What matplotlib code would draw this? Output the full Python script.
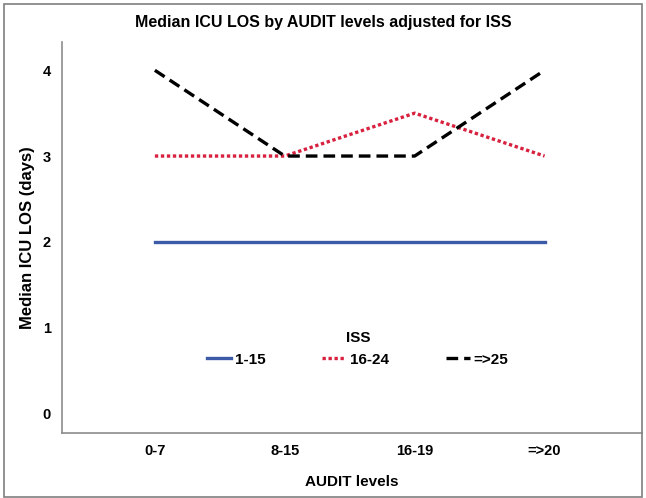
import matplotlib.pyplot as plt
from matplotlib.patches import Rectangle

# Data
audit_levels = ["0-7", "8-15", "16-19", "=>20"]
iss_1_15 = [2, 2, 2, 2]
iss_16_24 = [3, 3, 3.5, 3]
iss_25_plus = [4, 3, 3, 4]

plt.rcParams["font.family"] = ["Liberation Sans", "DejaVu Sans"]
plt.rcParams["font.weight"] = "bold"

fig = plt.figure(figsize=(6.46, 4.98), dpi=100)
ax = fig.add_axes([62 / 646, 1 - 433 / 498, 580 / 646, 391 / 498])

# Outer frame around the whole figure
fig.patches.append(Rectangle((4 / 646, 1 / 498), 638 / 646, 493 / 498,
                             transform=fig.transFigure, fill=False,
                             edgecolor="#7f7f7f", linewidth=1.2))

x = range(len(audit_levels))
ax.plot(x, iss_1_15, color="#3d5aa9", linewidth=2.4, label="1-15")
ax.plot(x, iss_16_24, color="#d8203f", linewidth=2.4, linestyle=(0, (1, 0.8)), label="16-24")
ax.plot(x, iss_25_plus, color="black", linewidth=2.4, linestyle=(0, (3.5, 1.8)), label="=>25")

ax.set_xlim(-0.715, 3.75)
ax.set_ylim(-0.23, 4.33)
ax.set_xticks(list(x))
ax.set_xticklabels(audit_levels)
ax.set_yticks([0, 1, 2, 3, 4])
ax.tick_params(length=0, labelsize=10.5)
ax.tick_params(axis="y", pad=8)
ax.tick_params(axis="x", pad=8)

for side in ["top", "right"]:
    ax.spines[side].set_visible(False)
for side in ["left", "bottom"]:
    ax.spines[side].set_color("#8c8c8c")
    ax.spines[side].set_linewidth(1.2)

ax.set_xlabel("AUDIT levels", fontsize=11, fontweight="bold", labelpad=12)
ax.set_ylabel("Median ICU LOS (days)", fontsize=12, fontweight="bold")
ax.yaxis.set_label_coords(-0.047, 0.5)
fig.text(323 / 646, 1 - 22 / 498, "Median ICU LOS by AUDIT levels adjusted for ISS",
         ha="center", va="center", fontsize=11.5, fontweight="bold")

leg = ax.legend(title="ISS", ncol=3, loc="center", bbox_to_anchor=(0.51, 0.215),
                frameon=False, fontsize=11, title_fontsize=11,
                handlelength=1.55, columnspacing=3.75, handletextpad=0.25)
leg.get_title().set_fontweight("bold")

fig.savefig("out.png", dpi=100)
